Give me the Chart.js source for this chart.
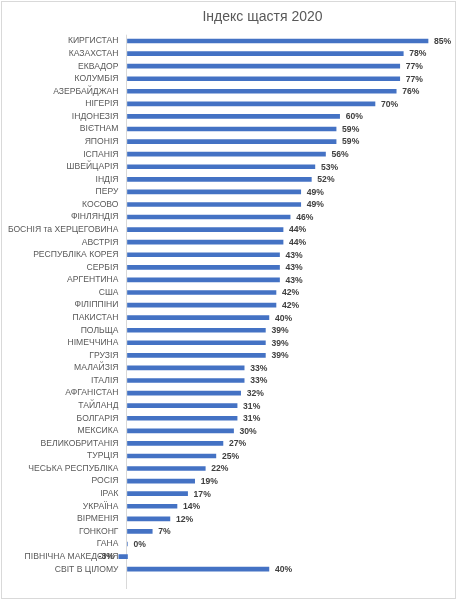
<!DOCTYPE html>
<html>
<head>
<meta charset="utf-8">
<script src="https://cdn.jsdelivr.net/npm/chart.js@4"></script>
<style>
  html, body { margin: 0; padding: 0; background: #ffffff; }
  #wrap { position: relative; width: 457px; height: 600px; }
  #frame { position: absolute; left: 1px; top: 1px; width: 453px; height: 596px; border: 1px solid #d9d9d9; pointer-events: none; }
  canvas { display: block; }
</style>
</head>
<body>
<div id="wrap">
  <canvas id="c" width="457" height="600"></canvas>
  <div id="frame"></div>
</div>
<script>
const chartTitle = 'Індекс щастя 2020';

const categories = [
  'КИРГИСТАН', 'КАЗАХСТАН', 'ЕКВАДОР', 'КОЛУМБІЯ', 'АЗЕРБАЙДЖАН', 'НІГЕРІЯ',
  'ІНДОНЕЗІЯ', 'ВІЄТНАМ', 'ЯПОНІЯ', 'ІСПАНІЯ', 'ШВЕЙЦАРІЯ', 'ІНДІЯ', 'ПЕРУ',
  'КОСОВО', 'ФІНЛЯНДІЯ', 'БОСНІЯ та ХЕРЦЕГОВИНА', 'АВСТРІЯ', 'РЕСПУБЛІКА КОРЕЯ',
  'СЕРБІЯ', 'АРГЕНТИНА', 'США', 'ФІЛІППІНИ', 'ПАКИСТАН', 'ПОЛЬЩА', 'НІМЕЧЧИНА',
  'ГРУЗІЯ', 'МАЛАЙЗІЯ', 'ІТАЛІЯ', 'АФГАНІСТАН', 'ТАЙЛАНД', 'БОЛГАРІЯ', 'МЕКСИКА',
  'ВЕЛИКОБРИТАНІЯ', 'ТУРЦІЯ', 'ЧЕСЬКА РЕСПУБЛІКА', 'РОСІЯ', 'ІРАК', 'УКРАЇНА',
  'ВІРМЕНІЯ', 'ГОНКОНГ', 'ГАНА', 'ПІВНІЧНА МАКЕДОНІЯ', 'СВІТ В ЦІЛОМУ', ''
];

const happinessIndex = [
  85, 78, 77, 77, 76, 70,
  60, 59, 59, 56, 53, 52, 49,
  49, 46, 44, 44, 43,
  43, 43, 42, 42, 40, 39, 39,
  39, 33, 33, 32, 31, 31, 30,
  27, 25, 22, 19, 17, 14,
  12, 7, 0, -3, 40, null
];

const valueAxisMin = -2.54;
const valueAxisMax = 90;

const zeroLinePlugin = {
  id: 'zeroLine',
  beforeDatasetsDraw(chart) {
    const { ctx, chartArea, scales } = chart;
    const x = Math.round(scales.x.getPixelForValue(0)) - 0.5;
    ctx.save();
    ctx.strokeStyle = '#d9d9d9';
    ctx.lineWidth = 1;
    ctx.beginPath();
    ctx.moveTo(x, chartArea.top);
    ctx.lineTo(x, chartArea.bottom + 1);
    ctx.stroke();
    ctx.restore();
  }
};

const valueLabelPlugin = {
  id: 'valueLabels',
  afterDatasetsDraw(chart) {
    const { ctx } = chart;
    const meta = chart.getDatasetMeta(0);
    const data = chart.data.datasets[0].data;
    ctx.save();
    ctx.font = 'bold 8.6px "Liberation Sans", Arial, sans-serif';
    ctx.fillStyle = '#404040';
    ctx.textBaseline = 'middle';
    meta.data.forEach((bar, i) => {
      const v = data[i];
      if (v === null || v === undefined) return;
      const txt = v + '%';
      if (v < 0) {
        ctx.textAlign = 'right';
        ctx.fillText(txt, bar.x - 3, bar.y + 0.5);
      } else {
        ctx.textAlign = 'left';
        ctx.fillText(txt, bar.x + 6, bar.y + 0.5);
      }
    });
    ctx.restore();
  }
};

const titlePlugin = {
  id: 'customTitle',
  afterDraw(chart) {
    const { ctx } = chart;
    ctx.save();
    ctx.font = '14px "Liberation Sans", Arial, sans-serif';
    ctx.fillStyle = '#595959';
    ctx.textAlign = 'center';
    ctx.textBaseline = 'middle';
    ctx.fillText(chartTitle, 262.5, 17.5);
    ctx.restore();
  }
};

new Chart(document.getElementById('c'), {
  type: 'bar',
  data: {
    labels: categories,
    datasets: [{
      data: happinessIndex,
      backgroundColor: '#4472C4',
      borderWidth: 0,
      barThickness: 4
    }]
  },
  options: {
    indexAxis: 'y',
    responsive: false,
    animation: false,
    devicePixelRatio: 1,
    layout: { padding: { left: 0, right: 11.3, top: 34.7, bottom: 12 } },
    plugins: {
      legend: { display: false },
      title: { display: false },
      tooltip: { enabled: false }
    },
    scales: {
      x: {
        display: false,
        min: valueAxisMin,
        max: valueAxisMax
      },
      y: {
        display: true,
        grid: { display: false, drawTicks: false, tickLength: 0 },
        border: { display: false },
        ticks: {
          color: '#595959',
          font: { family: '"Liberation Sans", Arial, sans-serif', size: 8.6 },
          padding: 0,
          autoSkip: false
        },
        afterFit(scale) { scale.width = 118.5; }
      }
    }
  },
  plugins: [zeroLinePlugin, valueLabelPlugin, titlePlugin]
});
</script>
</body>
</html>
